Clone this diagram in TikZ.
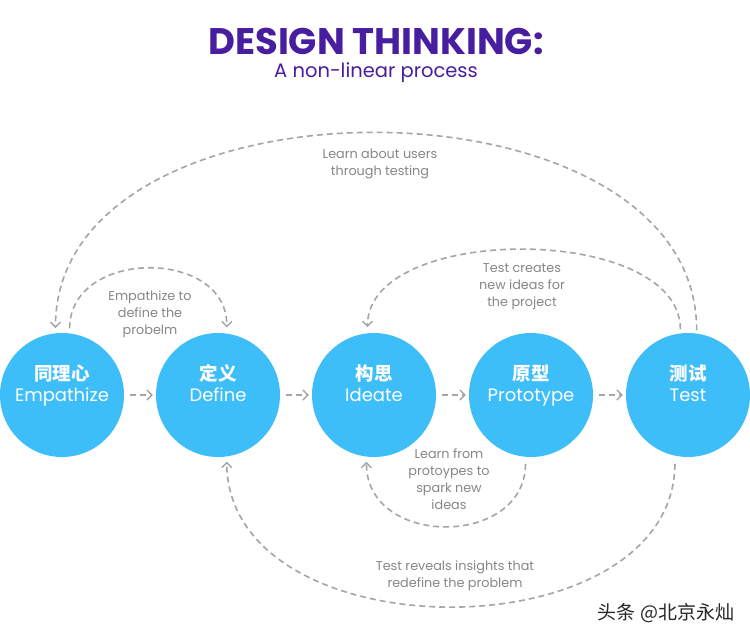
\documentclass[tikz,border=0pt]{standalone}
\usepackage{fontspec}
\setmainfont{Poppins}
\newfontfamily\cjk{Noto Sans CJK SC}
\usetikzlibrary{arrows.meta}
\definecolor{circ}{RGB}{62,190,248}
\definecolor{title}{RGB}{72,30,160}
\definecolor{lgrey}{RGB}{165,165,165}
\definecolor{tgrey}{RGB}{135,135,135}
\begin{document}
\begin{tikzpicture}[x=1pt,y=-1pt,
  stage/.style={circle,fill=circ,minimum size=124pt,inner sep=0pt,text=white,align=center,
    font=\fontsize{18}{21}\selectfont},
  link/.style={draw=lgrey,line width=1.6pt,dash pattern=on 6pt off 4pt,
    -{Straight Barb[length=5pt,width=10pt,line width=1.4pt]}},
  lbl/.style={text=tgrey,align=center,font=\fontsize{12.8}{17}\selectfont,inner sep=0pt}]
\useasboundingbox (0,0) rectangle (750,640);
\fill[white] (0,0) rectangle (750,640);
\node[text=title,inner sep=0pt,font=\fontsize{37}{40}\selectfont\bfseries] (t) at (376,41) {DESIGN THINKING:};
\node[text=title,inner sep=0pt,font=\fontsize{19.5}{22}\selectfont] (st) at (376,73) {A non-linear process};

\newcommand{\cn}[1]{{\cjk\bfseries\fontsize{18.5}{21}\selectfont #1}}
\node[stage] (emp) at (62,395) {\cn{同理心}\\Empathize\\[3pt]\mbox{}};
\node[stage] (def) at (218,395) {\cn{定义}\\Define\\[3pt]\mbox{}};
\node[stage] (ide) at (374,395) {\cn{构思}\\Ideate\\[3pt]\mbox{}};
\node[stage] (pro) at (531,395) {\cn{原型}\\Prototype\\[3pt]\mbox{}};
\node[stage] (tst) at (688,395) {\cn{测试}\\Test\\[3pt]\mbox{}};

\foreach \a/\b in {emp/def,def/ide,ide/pro,pro/tst}
  \draw[link,shorten <=6pt,shorten >=3pt] (\a) -- (\b);

% big top arc
\draw[link,shorten <=3pt,shorten >=5pt] (tst.82) .. controls (697,67) and (55,67) .. (emp.96);
% small left arc
\draw[link,shorten <=5pt,shorten >=6pt] (emp.83) .. controls (70,248) and (228,248) .. (def.82);
% right middle arc
\draw[link,shorten <=4pt,shorten >=6pt] (tst.97) .. controls (680,223) and (367,223) .. (ide.96);
% bottom small arc
\draw[link,shorten <=7pt,shorten >=5pt] (pro.265) .. controls (525,548) and (366,548) .. (ide.263);
% bottom big arc
\draw[link,shorten <=8pt,shorten >=5pt] (tst.258) .. controls (673,655) and (228,655) .. (def.278);

\node[lbl] (l1) at (380,164) {Learn about users\\through testing};
\node[lbl] (l2) at (150,314) {Empathize to\\define the\\probelm};
\node[lbl] (l3) at (522,287) {Test creates\\new ideas for\\the project};
\node[lbl] (l4) at (449,479) {Learn from\\protoypes to\\spark new\\ideas};
\node[lbl] (l5) at (455,576) {Test reveals insights that\\redefine the problem};

\node[font=\cjk\fontsize{19}{21}\selectfont,text=black!85] (wm) at (666,613) {头条 @北京永灿};
\end{tikzpicture}
\end{document}
